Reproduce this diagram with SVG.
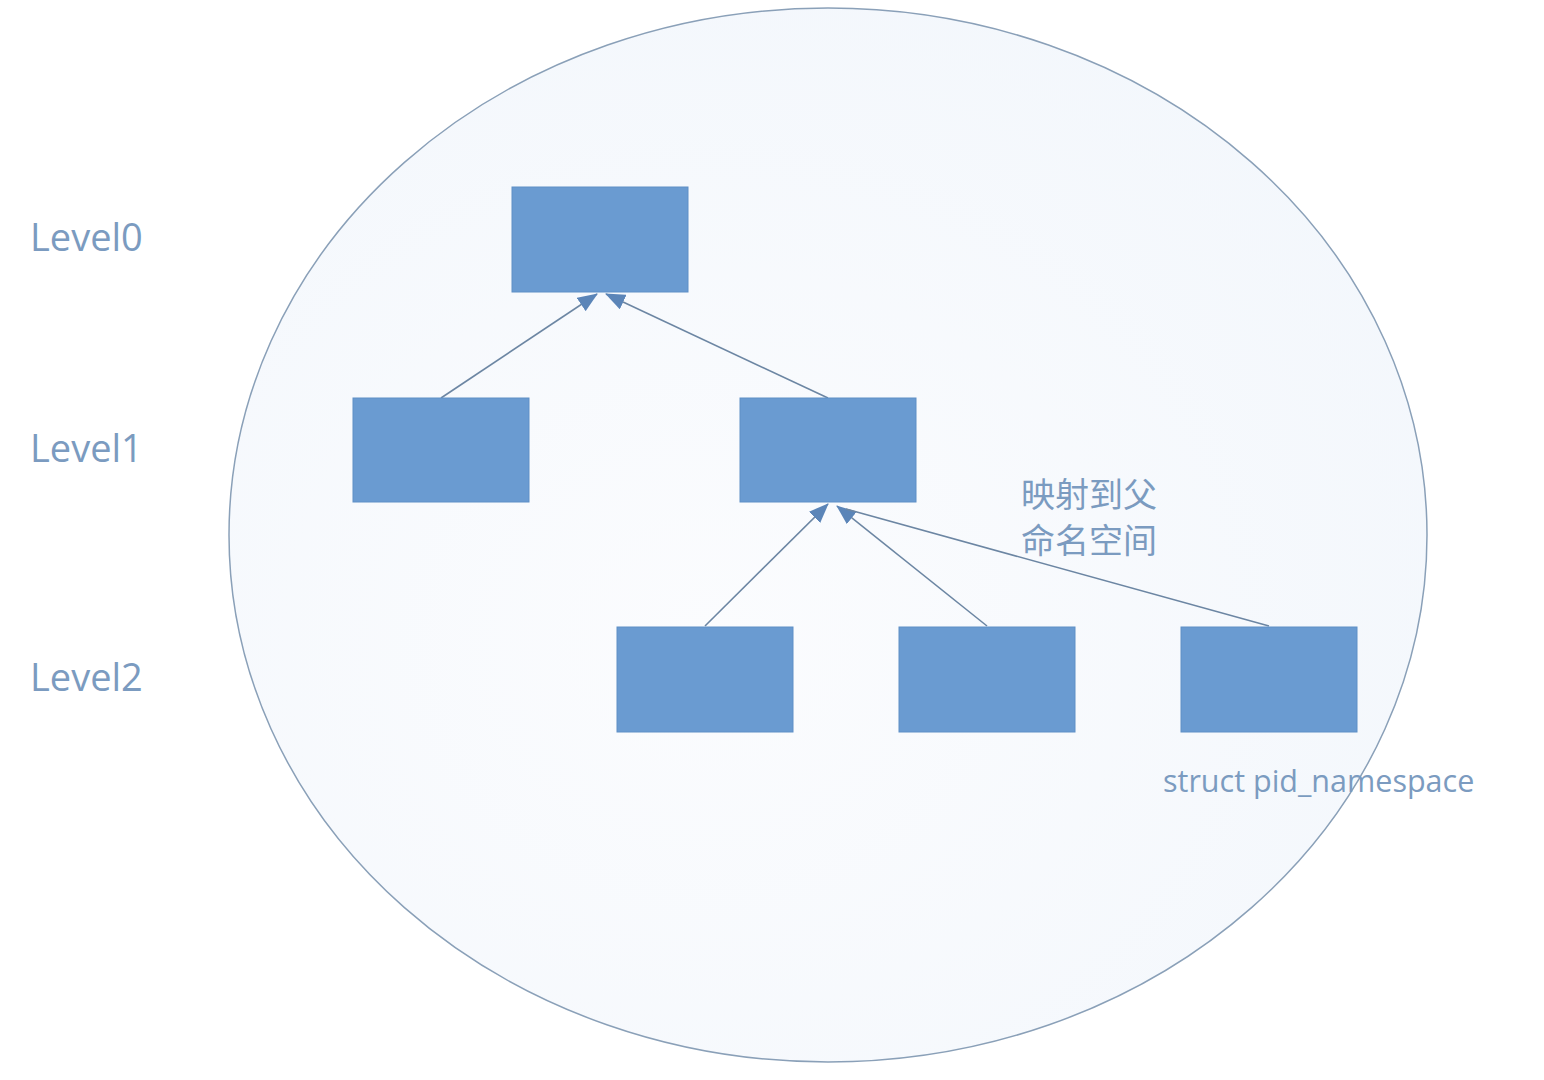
<svg xmlns="http://www.w3.org/2000/svg" width="1544" height="1080" viewBox="0 0 1544 1080">
<defs>
<style>
.box{fill:#6a9bd1;stroke:#5f8fc6;stroke-width:1}
.lbl{font-family:"Open Sans","Liberation Sans",sans-serif;fill:#7b9bc0}
.cjk{font-family:"Noto Sans CJK SC",sans-serif;fill:#7b9bc0}
</style>
<marker id="ahb" viewBox="0 0 20 16" refX="19" refY="8" markerWidth="20" markerHeight="16" markerUnits="userSpaceOnUse" orient="auto">
<path d="M0,0 L20,8 L0,16 z" fill="#5b85b8"/>
</marker>
<radialGradient id="bg" cx="0.4" cy="0.6" r="0.7">
<stop offset="0" stop-color="#fbfcfe"/>
<stop offset="1" stop-color="#f3f7fc"/>
</radialGradient>
</defs>
<rect width="1544" height="1080" fill="#ffffff"/>
<ellipse id="namespace" cx="828" cy="535" rx="599" ry="527" fill="url(#bg)" stroke="#8aa0b8" stroke-width="1.5"/>
<g id="connectors">
<line x1="441" y1="398" x2="597" y2="294" stroke="#6c86a3" stroke-width="1.6" marker-end="url(#ahb)"/>
<line x1="828" y1="398" x2="606" y2="294" stroke="#6c86a3" stroke-width="1.6" marker-end="url(#ahb)"/>
<line x1="705" y1="626" x2="828" y2="504" stroke="#6c86a3" stroke-width="1.6" marker-end="url(#ahb)"/>
<line x1="987" y1="626" x2="837" y2="506" stroke="#6c86a3" stroke-width="1.6" marker-end="url(#ahb)"/>
<line x1="1269" y1="626" x2="846" y2="509" stroke="#6c86a3" stroke-width="1.6"/>
</g>
<g id="level0"><rect class="box" x="512" y="187" width="176" height="105"/></g>
<g id="level1a"><rect class="box" x="353" y="398" width="176" height="104"/></g>
<g id="level1b"><rect class="box" x="740" y="398" width="176" height="104"/></g>
<g id="level2a"><rect class="box" x="617" y="627" width="176" height="105"/></g>
<g id="level2b"><rect class="box" x="899" y="627" width="176" height="105"/></g>
<g id="level2c"><rect class="box" x="1181" y="627" width="176" height="105"/></g>
<g id="labels">
<text class="lbl" x="30" y="251" font-size="38">Level0</text>
<text class="lbl" x="30" y="462" font-size="38">Level1</text>
<text class="lbl" x="30" y="691" font-size="38">Level2</text>
<text class="cjk" x="1021" y="507" font-size="34">映射到父</text>
<text class="cjk" x="1021" y="553" font-size="34">命名空间</text>
<text class="lbl" x="1163" y="792" font-size="30.5">struct pid_namespace</text>
</g>
</svg>
